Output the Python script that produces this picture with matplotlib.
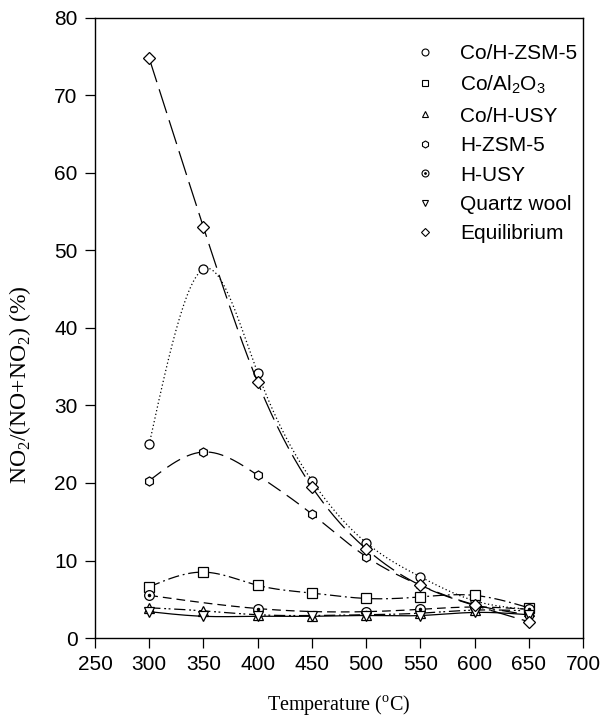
import numpy as np
import matplotlib.pyplot as plt
from matplotlib.lines import Line2D
from matplotlib.legend_handler import HandlerTuple

plt.rcParams["mathtext.fontset"] = "custom"
plt.rcParams["mathtext.rm"] = "Liberation Serif"
plt.rcParams["mathtext.sf"] = "Liberation Sans"

temps = [300, 350, 400, 450, 500, 550, 600, 650]
co_hzsm5 = [25.0, 47.6, 34.2, 20.3, 12.3, 7.9, 4.8, 3.7]
co_al2o3 = [6.6, 8.5, 6.8, 5.8, 5.1, 5.3, 5.5, 3.9]
co_husy = [3.9, 3.5, 3.0, 2.9, 3.0, 3.2, 3.6, 3.5]
h_zsm5 = [20.3, 24.0, 21.0, 16.0, 10.5, 6.8, 4.3, 3.0]
husy_temps = [300, 400, 500, 550, 600, 650]
h_usy = [5.5, 3.8, 3.4, 3.7, 4.0, 3.7]
quartz = [3.4, 2.8, 2.8, 2.8, 2.9, 2.9, 3.3, 3.0]
equil = [74.8, 53.0, 33.0, 19.5, 11.5, 6.8, 4.2, 2.1]


def smooth(x, y, n=200):
    # natural cubic spline, only for drawing the connecting curve
    x = np.asarray(x, float)
    y = np.asarray(y, float)
    k = len(x)
    h = np.diff(x)
    A = np.zeros((k, k))
    b = np.zeros(k)
    A[0, 0] = A[-1, -1] = 1
    for i in range(1, k - 1):
        A[i, i - 1] = h[i - 1]
        A[i, i] = 2 * (h[i - 1] + h[i])
        A[i, i + 1] = h[i]
        b[i] = 6 * ((y[i + 1] - y[i]) / h[i] - (y[i] - y[i - 1]) / h[i - 1])
    m = np.linalg.solve(A, b)
    xs = np.linspace(x[0], x[-1], n)
    idx = np.clip(np.searchsorted(x, xs) - 1, 0, k - 2)
    x0, x1 = x[idx], x[idx + 1]
    hh = x1 - x0
    t0, t1 = x1 - xs, xs - x0
    ys = (m[idx] * t0 ** 3 + m[idx + 1] * t1 ** 3) / (6 * hh) \
        + (y[idx] / hh - m[idx] * hh / 6) * t0 \
        + (y[idx + 1] / hh - m[idx + 1] * hh / 6) * t1
    return xs, ys


series = [
    ("Co/H-ZSM-5", temps, co_hzsm5, "o", (0, (1, 2))),
    ("Co/Al$_\\mathsf{2}$O$_\\mathsf{3}$", temps, co_al2o3, "s", (0, (9, 3, 1.5, 3))),
    ("Co/H-USY", temps, co_husy, "^", (0, (9, 3, 1.5, 2, 1.5, 3))),
    ("H-ZSM-5", temps, h_zsm5, "h", (0, (12, 6))),
    ("H-USY", husy_temps, h_usy, "dot", (0, (7, 4))),
    ("Quartz wool", temps, quartz, "v", "-"),
    ("Equilibrium", temps, equil, "D", (0, (20, 6))),
]

fig = plt.figure(figsize=(6.04, 7.2), dpi=100)
ax = fig.add_axes([95 / 604, 82 / 720, 488 / 604, 620 / 720])

handles = []
for name, xs, ys, mk, ls in series:
    sx, sy = smooth(xs, ys)
    ax.plot(sx, sy, color="black", lw=0.9, linestyle=ls)
    if mk == "dot":
        ax.plot(xs, ys, linestyle="none", marker="o", ms=7, mfc="white",
                mec="black", mew=0.9)
        ax.plot(xs, ys, linestyle="none", marker=".", ms=3, color="black")
        handles.append((Line2D([], [], linestyle="none", marker="o", ms=5,
                               mfc="white", mec="black", mew=0.8),
                        Line2D([], [], linestyle="none", marker=".", ms=2,
                               color="black")))
    else:
        ax.plot(xs, ys, linestyle="none", marker=mk,
                ms=6.5 if mk != "D" else 6, mfc="white",
                mec="black", mew=0.9)
        handles.append(Line2D([], [], linestyle="none", marker=mk,
                              ms=5 if mk != "D" else 4.5,
                              mfc="white", mec="black", mew=0.8))

ax.set_xlim(250, 700)
ax.set_ylim(0, 80)
ax.set_xticks(range(250, 701, 50))
ax.set_yticks(range(0, 81, 10))
ax.tick_params(direction="out", length=7.5, width=0.9, labelsize=15, pad=5)
for lab in ax.get_xticklabels() + ax.get_yticklabels():
    lab.set_family("Liberation Sans")
for sp in ax.spines.values():
    sp.set_linewidth(1.0)

ax.set_xlabel("Temperature ($^{\\rm o}$C)", family="Liberation Serif",
              fontsize=14.5, va="center")
ax.xaxis.set_label_coords(0.5, -0.108)
ax.set_ylabel("NO$_2$/(NO+NO$_2$) (%)", family="Liberation Serif",
              fontsize=17, va="center")
ax.yaxis.set_label_coords(-0.154, 0.408)

ax.legend(handles, [s[0] for s in series], loc="upper right",
          bbox_to_anchor=(1.005, 0.971), frameon=False,
          handlelength=0.8, handletextpad=1.3,
          labelspacing=0.5, borderaxespad=0.0,
          prop={"family": "Liberation Sans", "size": 15},
          handler_map={tuple: HandlerTuple(ndivide=1, pad=0)})

fig.savefig("out.png", dpi=100)
